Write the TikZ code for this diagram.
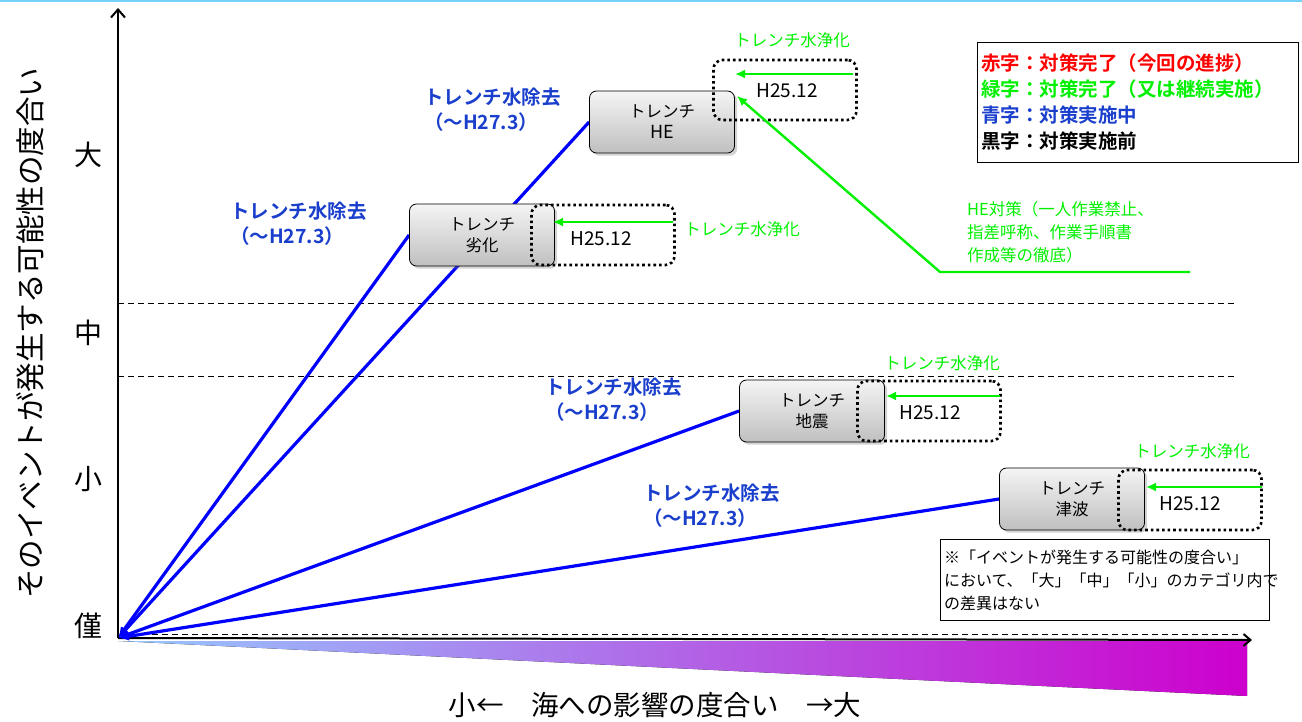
\documentclass[tikz,border=0pt]{standalone}
\usepackage{fontspec}
\setmainfont{Noto Sans CJK JP}[BoldFont={Noto Sans CJK JP Bold}]
\usepackage{xcolor}
\usetikzlibrary{arrows.meta,shadows}
\pgfdeclarelayer{background}
\pgfsetlayers{background,main}
\definecolor{lblue}{HTML}{1A3FCC}
\definecolor{lgreen}{HTML}{00F000}
\newcommand{\fs}[2]{\fontsize{#1}{#2}\selectfont}

\begin{document}
\begin{tikzpicture}[x=1pt,y=-1pt]
      \useasboundingbox(0,0) rectangle (1302,722);
      \tikzset{T/.style = {shape=rectangle, rounded corners=7pt, draw, thick, minimum width=145pt, minimum height=62pt, top color=gray!8, bottom color=gray!50, drop shadow={opacity=0.35}, align=center, font=\fs{16.5}{21}}}
      \tikzset{D/.style = {shape=rectangle, rounded corners=9pt, draw, line width=2.6pt, dash pattern=on 2.6pt off 3pt, minimum width=143pt, minimum height=60pt}}
      \tikzset{B/.style = {draw,blue,line width=3.2pt,-{Latex[length=11pt,width=9pt]}}}
      \tikzset{G/.style = {draw,lgreen,line width=2.4pt,-{Latex[length=10pt,width=9pt]}}}
      \tikzset{L/.style = {text=lblue, font=\bfseries\fs{19.5}{25}, align=left, anchor=north west, inner sep=0pt}}
      \tikzset{W/.style = {text=lgreen, font=\fs{16.5}{18}, inner sep=0pt}}
      \tikzset{H/.style = {font=\fs{19}{20}, inner sep=0pt}}
      \draw[cyan!55,line width=1.5pt](0,1) -- (1302,1);
      \coordinate (O) at (118,638);
      \coordinate (ytop) at (118,8);
      \coordinate (xend) at (1252,640);
      % axis texts
      \node[rotate=90,font=\fs{29.5}{30}](ytitle) at (30,333) {そのイベントが発生する可能性の度合い};
      \node[font=\fs{27.5}{30}](xtitle) at (655,705) {小←　海への影響の度合い　→大};
      \node[font=\fs{28}{30}](lv3) at (88,155) {大};
      \node[font=\fs{28}{30}](lv2) at (88,333) {中};
      \node[font=\fs{28}{30}](lv1) at (88,479) {小};
      \node[font=\fs{28}{30}](lv0) at (88,626) {僅};
      % boxes
      \node[T](he) at (662,122) {トレンチ\\{\fs{18}{21}HE}};
      \node[T](rek) at (482,235) {トレンチ\\劣化};
      \node[T](eq) at (812,411) {トレンチ\\地震};
      \node[T](ts) at (1072,499) {トレンチ\\津波};
      \begin{pgfonlayer}{background}
      \fill[left color={rgb,255:red,150;green,200;blue,255}, right color={rgb,255:red,205;green,0;blue,205}] (118,641) -- (1247,641) -- (1247,696) -- cycle;
      \draw[dash pattern=on 6pt off 4pt,line width=1pt](118,304) -- (1237,304);
      \draw[dash pattern=on 6pt off 4pt,line width=1pt](118,376) -- (1237,376);
      \draw[dash pattern=on 6pt off 4pt,line width=1pt](122,634) -- (1240,634);
      \draw[line width=2pt,-{Straight Barb[length=8pt,width=14pt]}](O) -- (ytop);
      \draw[line width=2pt,-{Straight Barb[length=7pt,width=12pt]}](O) -- (xend);
      \draw[B](he.west) to (O);
      \draw[B](rek.west) to (O);
      \draw[B](eq.west) to (O);
      \draw[B](ts.west) to (O);
      \end{pgfonlayer}
      \node[D](dhe) at (785,90) {};
      \node[D](drek) at (603,235) {};
      \node[D](deq) at (929,411) {};
      \node[D](dts) at (1190,500) {};
      \node[H](ddhe) at (787,91) {H25.12};
      \node[H](ddrek) at (601,239) {H25.12};
      \node[H](ddeq) at (930,413) {H25.12};
      \node[H](ddts) at (1190,504) {H25.12};
      % green arrows
      \coordinate (g1a) at (853,74);
      \coordinate (g1b) at (735,74);
      \coordinate (g2a) at (673,222);
      \coordinate (g2b) at (553,222);
      \coordinate (g3a) at (1000,396);
      \coordinate (g3b) at (886,396);
      \coordinate (g4a) at (1262,487);
      \coordinate (g4b) at (1146,487);
      \draw[G](g1a) to (g1b);
      \draw[G](g2a) to (g2b);
      \draw[G](g3a) to (g3b);
      \draw[G](g4a) to (g4b);
      \coordinate (hA) at (1190,272);
      \coordinate (hB) at (940,272);
      \coordinate (hC) at (737,96);
      \draw[G](hA) -- (hB) -- (hC);
      \node[W](w1) at (792,40) {トレンチ水浄化};
      \node[W](w2) at (742,229) {トレンチ水浄化};
      \node[W](w3) at (942,363) {トレンチ水浄化};
      \node[W](w4) at (1192,451) {トレンチ水浄化};
      \node[W,align=left,anchor=north west,font=\fs{16.5}{23}](hetxt) at (967,201) {HE対策（一人作業禁止、\\指差呼称、作業手順書\\作成等の徹底）};
      % blue labels
      \node[L](b1) at (424,88) {トレンチ水除去\\（～H27.3）};
      \node[L](b2) at (230,202) {トレンチ水除去\\（～H27.3）};
      \node[L](b3) at (545,378) {トレンチ水除去\\（～H27.3）};
      \node[L](b4) at (643,484) {トレンチ水除去\\（～H27.3）};
      % legend and note
      \node[draw,thick,fill=white,minimum width=320pt,minimum height=120pt,text width=314pt,align=left,font=\bfseries\fs{19.5}{26}](legend) at (1138,102) {\textcolor{red}{赤字：対策完了（今回の進捗）}\\\textcolor{lgreen}{緑字：対策完了（又は継続実施）}\\\textcolor{lblue}{青字：対策実施中}\\黒字：対策実施前};
      \node[draw,thick,fill=white,minimum width=326pt,minimum height=81pt,text width=322pt,align=left,font=\fs{16}{23}](note) at (1105,580) {※「イベントが発生する可能性の度合い」\\において、「大」「中」「小」のカテゴリ内で\\の差異はない};
    \end{tikzpicture}
\end{document}
